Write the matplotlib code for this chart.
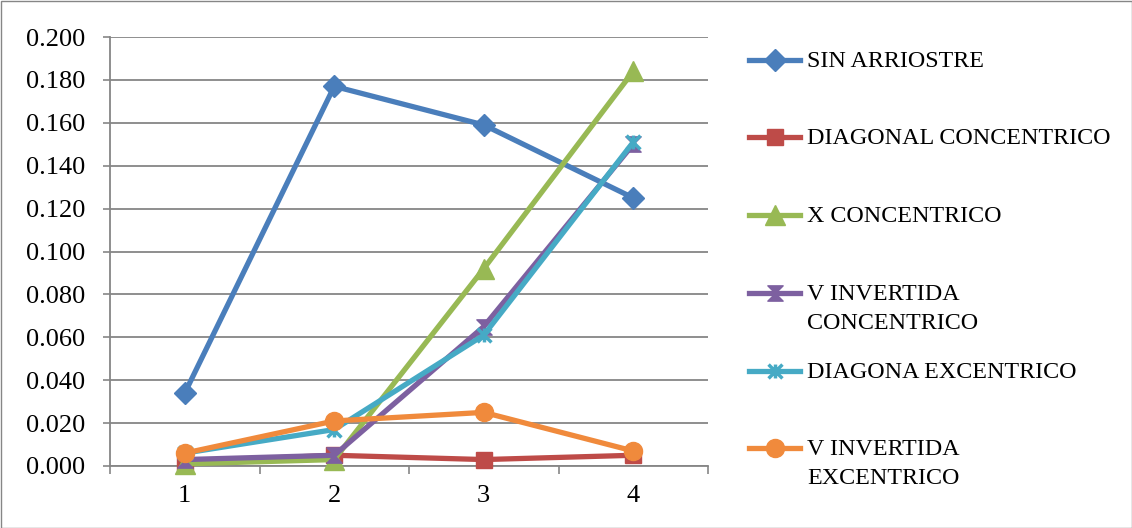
import numpy as np
import matplotlib.pyplot as plt
from matplotlib.lines import Line2D
from matplotlib.path import Path
from matplotlib.patches import Rectangle

# data
x = [1, 2, 3, 4]
sin_arriostre = [0.034, 0.177, 0.159, 0.125]
diagonal_conc = [0.002, 0.005, 0.003, 0.005]
x_conc = [0.001, 0.003, 0.092, 0.184]
v_inv_conc = [0.003, 0.005, 0.065, 0.150]
diagona_exc = [0.006, 0.017, 0.061, 0.151]
v_inv_exc = [0.006, 0.021, 0.025, 0.007]

labels = ["SIN ARRIOSTRE", "DIAGONAL CONCENTRICO", "X CONCENTRICO",
          "V INVERTIDA\nCONCENTRICO", "DIAGONA EXCENTRICO", "V INVERTIDA\nEXCENTRICO"]
yticks = [0.0, 0.02, 0.04, 0.06, 0.08, 0.10, 0.12, 0.14, 0.16, 0.18, 0.20]

plt.rcParams['font.family'] = ['Liberation Serif', 'DejaVu Serif']

# custom Excel-like markers
hourglass = Path([(-1, 1), (1, 1), (-1, -1), (1, -1), (-1, 1)],
                 [Path.MOVETO, Path.LINETO, Path.LINETO, Path.LINETO, Path.CLOSEPOLY])
star = Path([(0, -1), (0, 1), (-1, -1), (1, 1), (-1, 1), (1, -1)],
            [Path.MOVETO, Path.LINETO, Path.MOVETO, Path.LINETO, Path.MOVETO, Path.LINETO])

series = [
    (sin_arriostre, '#4A7EBB', 'D', 11, 1),
    (diagonal_conc, '#BE4B48', 's', 12, 1),
    (x_conc, '#98B954', '^', 14, 1),
    (v_inv_conc, '#7D60A0', hourglass, 11, 1),
    (diagona_exc, '#46AAC5', star, 10, 2.5),
    (v_inv_exc, '#F08A3C', 'o', 13, 1),
]

fig = plt.figure(figsize=(11.32, 5.28), dpi=100)
ax = fig.add_axes([110 / 1132, 1 - 466 / 528, (708 - 110) / 1132, (466 - 37) / 528])

for vals, col, mk, ms, mew in series:
    ax.plot(x, vals, color=col, lw=3.8, marker=mk, ms=ms,
            markerfacecolor=col, markeredgecolor=col, markeredgewidth=mew,
            solid_joinstyle='round', clip_on=False, zorder=3)

ax.set_xlim(0.5, 4.5)
ax.set_ylim(0, 0.2)
ax.set_yticks(yticks)
ax.set_yticklabels(['%.3f' % v for v in yticks])
ax.set_xticks(x)
ax.set_xticks([0.5, 1.5, 2.5, 3.5, 4.5], minor=True)
ax.tick_params(axis='x', which='major', length=0, pad=14, labelsize=19)
ax.tick_params(axis='x', which='minor', length=6, width=1.2, color='#868686')
ax.tick_params(axis='y', length=5, width=1.2, color='#868686', pad=13, labelsize=19)
ax.grid(axis='y', color='#868686', lw=1.3)
ax.set_axisbelow(True)
for s in ['top', 'right']:
    ax.spines[s].set_visible(False)
for s in ['left', 'bottom']:
    ax.spines[s].set_color('#868686')
    ax.spines[s].set_linewidth(1.3)

# legend drawn by hand so the handle sits on the first text line
leg_y = [60, 137, 215, 293, 371, 448]
for (vals, col, mk, ms, mew), lab, yp in zip(series, labels, leg_y):
    yf = 1 - yp / 528
    fig.add_artist(Line2D([749 / 1132, 800 / 1132], [yf, yf], color=col, lw=3.8))
    fig.add_artist(Line2D([774.5 / 1132], [yf], color=col, marker=mk, ms=ms,
                          markerfacecolor=col, markeredgecolor=col, markeredgewidth=mew))
    fig.text(807 / 1132, yf + 9 / 528, lab, fontsize=17.3, va='top', ha='left',
             linespacing=1.5)

fig.add_artist(Rectangle((0.5 / 1132, 0.5 / 528), 1 - 1 / 1132, 1 - 1 / 528,
                         transform=fig.transFigure, fill=False, ec='#868686', lw=1))

fig.savefig('out.png', dpi=100)
